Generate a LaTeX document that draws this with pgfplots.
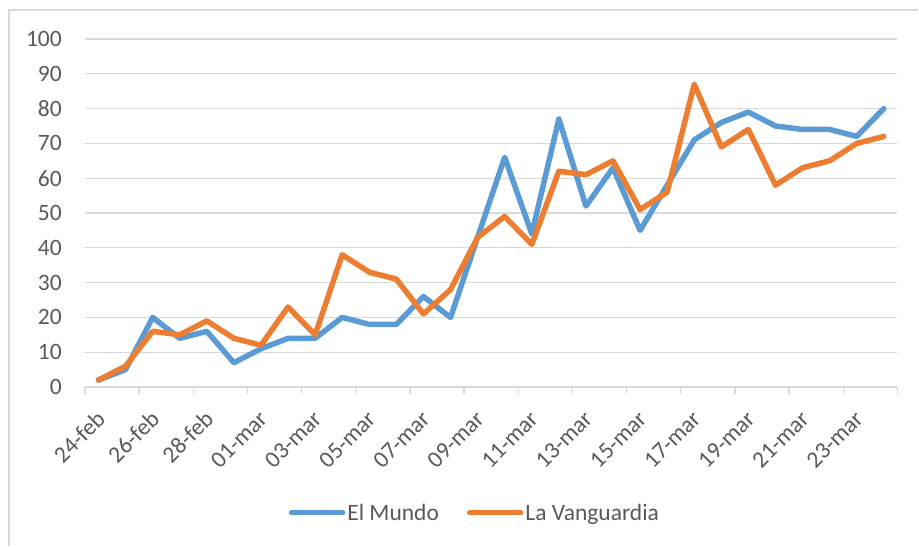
\documentclass[border=0pt]{standalone}
\usepackage{fontspec}
\setmainfont{Carlito}
\usepackage{pgfplots}
\pgfplotsset{compat=1.18}
\usepackage{pgfplotstable}
\definecolor{emblue}{HTML}{5B9BD5}
\definecolor{lvorange}{HTML}{ED7D31}
\definecolor{gridgray}{HTML}{D9D9D9}
\definecolor{txtgray}{HTML}{595959}

\pgfplotstableread{
i mundo vang
0 2 2
1 5 6
2 20 16
3 14 15
4 16 19
5 7 14
6 11 12
7 14 23
8 14 15
9 20 38
10 18 33
11 18 31
12 26 21
13 20 28
14 43 43
15 66 49
16 44 41
17 77 62
18 52 61
19 63 65
20 45 51
21 58 56
22 71 87
23 76 69
24 79 74
25 75 58
26 74 63
27 74 65
28 72 70
29 80 72
}\data

\begin{document}
\begin{tikzpicture}
\path (0,0) rectangle (919bp,546bp);
\draw[gridgray, line width=1.3bp] (9bp,0) -- (9bp,536bp) -- (919bp,536bp);
\begin{axis}[
  at={(85bp,158.7bp)}, anchor=south west,
  scale only axis, width=813bp, height=348.3bp,
  xmin=-0.5, xmax=29.5, ymin=0, ymax=100,
  axis line style={draw=none},
  ytick={0,10,...,100},
  ymajorgrids, grid style={gridgray, line width=1.3bp},
  xtick={0,2,...,28},
  xticklabels={24-feb,26-feb,28-feb,01-mar,03-mar,05-mar,07-mar,09-mar,11-mar,13-mar,15-mar,17-mar,19-mar,21-mar,23-mar},
  major tick length=0pt,
  xtick pos=left, ytick pos=left,
  extra x ticks={-0.5,1.5,...,29.5},
  extra x tick labels={},
  extra x tick style={major tick length=7bp, tick align=outside, tick style={gridgray, line width=1.3bp}, grid=none},
  /pgf/number format/assume math mode=true,
  ticklabel style={font=\fontsize{23.5bp}{28bp}\selectfont, text=txtgray},
  yticklabel style={anchor=east, inner sep=0pt, xshift=-23bp},
  xticklabel style={rotate=45, anchor=east, inner sep=0pt, xshift=-18bp, yshift=-21.6bp},
  legend columns=2,
  legend style={at={(axis description cs:0.48,-0.361)}, anchor=center, draw=none, fill=none,
    font=\fontsize{23.5bp}{28bp}\selectfont, text=txtgray, inner sep=0pt,
    /tikz/every even column/.append style={column sep=26bp}},
  legend image code/.code={\draw[#1, line width=5.5bp] (0bp,0bp) -- (51bp,0bp);},
]
\addplot[emblue, line width=5.5bp, line join=round, line cap=round] table[x=i, y=mundo] {\data};
\addlegendentry{El Mundo}
\addplot[lvorange, line width=5.5bp, line join=round, line cap=round] table[x=i, y=vang] {\data};
\addlegendentry{La Vanguardia}
\end{axis}
\end{tikzpicture}
\end{document}
